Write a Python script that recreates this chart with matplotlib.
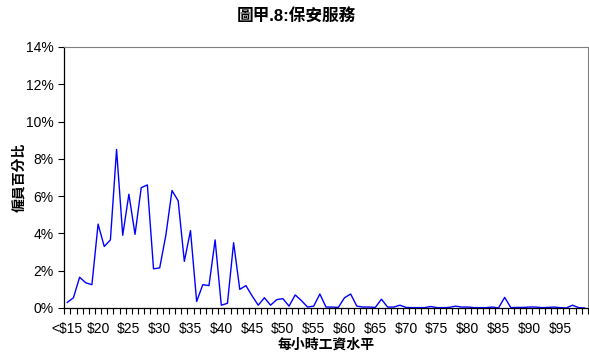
import numpy as np
import matplotlib.pyplot as plt
from matplotlib.ticker import FuncFormatter, MultipleLocator

plt.rcParams['font.family'] = ['Liberation Sans', 'Noto Sans CJK TC', 'DejaVu Sans']

# share of employees (%) for each hourly wage category, <$15, $16 ... $99
wage_labels = ['<$15'] + ['$%d' % w for w in range(16, 100)]
share = [0.3, 0.55, 1.65, 1.35, 1.25, 4.5, 3.3, 3.65, 8.5, 3.9,
         6.1, 3.95, 6.45, 6.6, 2.1, 2.15, 3.9, 6.3, 5.75, 2.5,
         4.15, 0.35, 1.25, 1.2, 3.65, 0.15, 0.25, 3.5, 1.0, 1.2,
         0.65, 0.15, 0.55, 0.15, 0.45, 0.5, 0.1, 0.7, 0.4, 0.05,
         0.1, 0.75, 0.05, 0.05, 0.03, 0.55, 0.75, 0.1, 0.05, 0.05,
         0.03, 0.47, 0.05, 0.05, 0.15, 0.03, 0.02, 0.02, 0.02, 0.08,
         0.02, 0.02, 0.03, 0.1, 0.05, 0.05, 0.02, 0.02, 0.02, 0.05,
         0.0, 0.57, 0.02, 0.03, 0.03, 0.05, 0.05, 0.02, 0.03, 0.05,
         0.02, 0.0, 0.15, 0.02, 0.0]
tick_every = 5

title = '圖甲.8:保安服務'
xlabel = '每小時工資水平'
ylabel = '僱員百分比'

fig = plt.figure(figsize=(5.89, 3.53), dpi=100)
ax = fig.add_axes([0.109, 0.1275, 0.889, 0.7395])

x = np.arange(len(share))
ax.plot(x, share, color='#0000FF', linewidth=1.0)

ax.set_xlim(-0.5, len(share) - 0.5)
ax.set_ylim(0, 14)
ax.yaxis.set_major_locator(MultipleLocator(2))
ax.yaxis.set_major_formatter(FuncFormatter(lambda v, p: '%d%%' % v))

ax.set_xticks(x[::tick_every])
ax.set_xticklabels(wage_labels[::tick_every])
ax.set_xticks(np.arange(len(share) + 1) - 0.5, minor=True)
ax.tick_params(axis='x', which='major', length=0, pad=10)
ax.tick_params(axis='x', which='minor', length=4, width=0.8, direction='out')
ax.tick_params(axis='y', length=4, width=0.8, direction='out')
for label in (ax.get_xticklabels() + ax.get_yticklabels()):
    label.set_fontsize(10)

ax.spines['top'].set_color('#808080')
ax.spines['right'].set_color('#808080')
ax.spines['left'].set_linewidth(0.9)
ax.spines['bottom'].set_linewidth(0.9)

ax.set_xlabel(xlabel, fontsize=10, fontweight='bold', labelpad=1)
ax.set_ylabel(ylabel, fontsize=10, fontweight='bold', labelpad=0)
fig.text(0.503, 0.955, title, ha='center', va='center', fontsize=12, fontweight='bold')

plt.savefig('out.png', dpi=100)
